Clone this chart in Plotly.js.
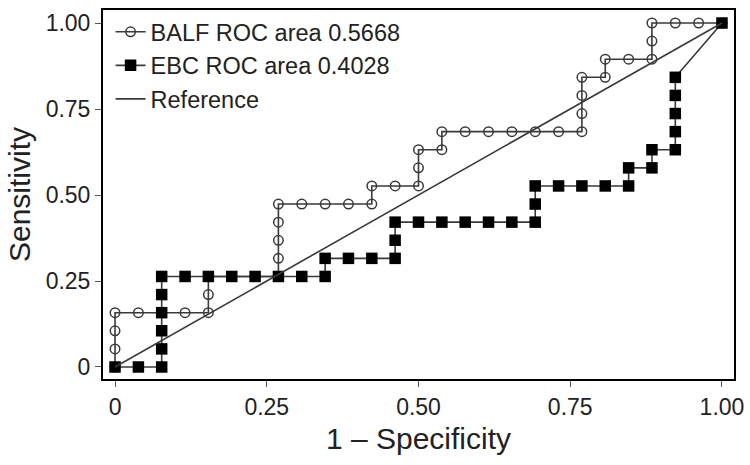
<!DOCTYPE html>
<html>
<head>
<meta charset="utf-8">
<script src="https://cdn.plot.ly/plotly-3.0.1.min.js"></script>
<style>html,body{margin:0;padding:0;background:#fff;}#chart{width:750px;height:465px;}</style>
</head>
<body>
<div id="chart"></div>
<script>
// BALF ROC curve (1 - specificity, sensitivity)
var balfX = [0,0,0,0,0.0385,0.0769,0.1154,0.1538,0.1538,0.1538,0.1923,0.2308,0.2692,0.2692,0.2692,0.2692,0.2692,0.3077,0.3462,0.3846,0.4231,0.4231,0.4615,0.5,0.5,0.5,0.5385,0.5385,0.5769,0.6154,0.6538,0.6923,0.7308,0.7692,0.7692,0.7692,0.7692,0.8077,0.8077,0.8462,0.8846,0.8846,0.8846,0.9231,0.9615,1];
var balfY = [0,0.0526,0.1053,0.1579,0.1579,0.1579,0.1579,0.1579,0.2105,0.2632,0.2632,0.2632,0.2632,0.3158,0.3684,0.4211,0.4737,0.4737,0.4737,0.4737,0.4737,0.5263,0.5263,0.5263,0.5789,0.6316,0.6316,0.6842,0.6842,0.6842,0.6842,0.6842,0.6842,0.6842,0.7368,0.7895,0.8421,0.8421,0.8947,0.8947,0.8947,0.9474,1,1,1,1];
// EBC ROC curve
var ebcX = [0,0.0385,0.0769,0.0769,0.0769,0.0769,0.0769,0.0769,0.1154,0.1538,0.1923,0.2308,0.2692,0.3077,0.3462,0.3462,0.3846,0.4231,0.4615,0.4615,0.4615,0.5,0.5385,0.5769,0.6154,0.6538,0.6923,0.6923,0.6923,0.7308,0.7692,0.8077,0.8462,0.8462,0.8846,0.8846,0.9231,0.9231,0.9231,0.9231,0.9231,1];
var ebcY = [0,0,0,0.0526,0.1053,0.1579,0.2105,0.2632,0.2632,0.2632,0.2632,0.2632,0.2632,0.2632,0.2632,0.3158,0.3158,0.3158,0.3158,0.3684,0.4211,0.4211,0.4211,0.4211,0.4211,0.4211,0.4211,0.4737,0.5263,0.5263,0.5263,0.5263,0.5263,0.5789,0.5789,0.6316,0.6316,0.6842,0.7368,0.7895,0.8421,1];
// Reference line
var refX = [0,1];
var refY = [0,1];
var seriesNames = ['BALF ROC area 0.5668','EBC ROC area 0.4028','Reference'];
var tickVals = [0,0.25,0.5,0.75,1];
var tickText = ['0','0.25','0.50','0.75','1.00'];

var FONT = 'Liberation Sans, Arial, sans-serif';
var traces = [
  {x: balfX, y: balfY, name: seriesNames[0], type:'scatter', mode:'lines+markers',
   line:{color:'#3a3a3a', width:1.6},
   marker:{symbol:'circle-open', size:9.5, color:'#3a3a3a', line:{width:1.5, color:'#3a3a3a'}}},
  {x: ebcX, y: ebcY, name: seriesNames[1], type:'scatter', mode:'lines+markers',
   line:{color:'#3a3a3a', width:1.6},
   marker:{symbol:'square', size:11.5, color:'#000'}},
  {x: refX, y: refY, name: seriesNames[2], type:'scatter', mode:'lines',
   line:{color:'#3a3a3a', width:1.6}}
];
var axisCommon = {
  tickvals: tickVals, ticktext: tickText, ticks:'outside', ticklen:6, tickwidth:1, tickcolor:'#555',
  showline:true, mirror:true, linecolor:'#000', linewidth:2, showgrid:false, zeroline:false,
  tickfont:{family:FONT, size:23, color:'#222'}, fixedrange:true
};
var layout = {
  width:750, height:465,
  margin:{l:103, r:16, t:10, b:86},
  paper_bgcolor:'#fff', plot_bgcolor:'#fff',
  showlegend:true,
  legend:{x:0.012, y:1.0, xanchor:'left', yanchor:'top', bgcolor:'rgba(0,0,0,0)',
    font:{family:FONT, size:23.5, color:'#222'}, tracegroupgap:0},
  xaxis: Object.assign({}, axisCommon, {range:[-0.0198, 1.0198],
    title:{text:'1 – Specificity', font:{family:FONT, size:30, color:'#222'}, standoff:9}}),
  yaxis: Object.assign({}, axisCommon, {range:[-0.0349, 1.0378],
    title:{text:'Sensitivity', font:{family:FONT, size:30, color:'#222'}, standoff:6}})
};
Plotly.newPlot('chart', traces, layout, {displayModeBar:false, staticPlot:true});
</script>
</body>
</html>
